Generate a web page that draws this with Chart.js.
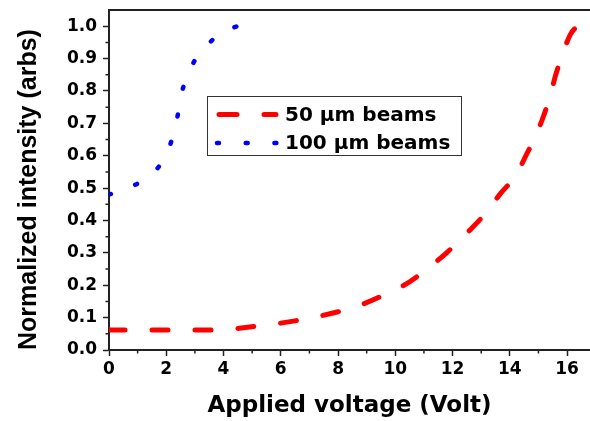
<!DOCTYPE html>
<html>
<head>
<meta charset="utf-8">
<title>Normalized intensity vs applied voltage</title>
<script src="https://cdn.jsdelivr.net/npm/chart.js@4/dist/chart.umd.min.js"></script>
<style>
    html, body { margin: 0; padding: 0; background: #fff; }
    #wrap { width: 590px; height: 421px; }
</style>
</head>
<body>
<div id="wrap"><canvas id="chart" width="590" height="421"></canvas></div>
<script>
// Data
const voltage50 = [0, 4, 4.7, 5.5, 6.7, 7.1, 8, 8.7, 9.6, 10, 10.3, 11.2, 11.8, 12.6, 13.1, 13.7, 14.2, 14.6, 14.9, 15.2, 15.4, 15.6, 15.8, 16.1, 16.25, 16.5];
const intensity50 = [0.062, 0.062, 0.069, 0.077, 0.093, 0.1, 0.118, 0.136, 0.17, 0.19, 0.2, 0.257, 0.301, 0.37, 0.417, 0.486, 0.538, 0.607, 0.66, 0.728, 0.782, 0.849, 0.903, 0.972, 0.991, 1.0];

const voltage100 = [0, 0.5, 1, 1.5, 1.85, 2.2, 2.4, 2.55, 2.85, 3.15, 3.45, 3.9, 4.45];
const intensity100 = [0.48, 0.495, 0.514, 0.545, 0.58, 0.651, 0.725, 0.797, 0.869, 0.915, 0.943, 0.98, 0.999];

const seriesLabels = ['50 \u03bcm beams', '100 \u03bcm beams'];
const xTitle = 'Applied voltage (Volt)';
const yTitle = 'Normalized intensity (arbs)';

const AXIS_COLOR = '#222';
const TICK_FONT = { family: 'DejaVu Sans', weight: 'bold', size: 17 };

// build {x, y} points for the line datasets
function toPoints(xs, ys) {
    return xs.map((x, i) => ({ x: x, y: ys[i] }));
}

// Minor ticks, top frame line and boxed legend
const decorPlugin = {
    id: 'decor',
    afterDraw(chart) {
        const ctx = chart.ctx;
        const area = chart.chartArea;
        const xs = chart.scales.x;
        const ys = chart.scales.y;

        ctx.save();
        ctx.strokeStyle = AXIS_COLOR;

        // top frame
        ctx.lineWidth = 2;
        ctx.beginPath();
        ctx.moveTo(area.left - 1, area.top);
        ctx.lineTo(area.right, area.top);
        ctx.stroke();

        // minor ticks
        ctx.lineWidth = 1.5;
        ctx.beginPath();
        for (let v = 1; v < xs.max; v += 2) {
            const px = xs.getPixelForValue(v);
            ctx.moveTo(px, area.bottom);
            ctx.lineTo(px, area.bottom + 3.5);
        }
        for (let i = 0; i < 10; i++) {
            const py = ys.getPixelForValue(0.05 + i * 0.1);
            ctx.moveTo(area.left, py);
            ctx.lineTo(area.left - 3.5, py);
        }
        ctx.stroke();

        // legend box
        ctx.lineWidth = 1;
        ctx.strokeStyle = '#333';
        ctx.strokeRect(207.5, 96.5, 254, 59);

        const sets = chart.data.datasets;
        const rows = [
            { y: 114.5, dash: [18, 27], x0: 219, x1: 276 },
            { y: 143, dash: [2, 26.7], x0: 217, x1: 278 }
        ];
        rows.forEach((r, i) => {
            const ds = sets[i];
            ctx.save();
            ctx.strokeStyle = ds.borderColor;
            ctx.lineWidth = ds.borderWidth;
            ctx.lineCap = 'round';
            ctx.setLineDash(r.dash);
            ctx.beginPath();
            ctx.moveTo(r.x0, r.y);
            ctx.lineTo(r.x1, r.y);
            ctx.stroke();
            ctx.restore();

            ctx.fillStyle = '#000';
            ctx.font = 'bold 20px "DejaVu Sans"';
            ctx.textBaseline = 'middle';
            ctx.textAlign = 'left';
            ctx.fillText(ds.label, 285, r.y + 1);
        });
        ctx.restore();
    }
};

const chart = new Chart(document.getElementById('chart'), {
    type: 'line',
    data: {
        datasets: [
            {
                label: seriesLabels[0],
                data: toPoints(voltage50, intensity50),
                borderColor: '#ff0000',
                borderWidth: 5,
                borderDash: [16, 27],
                borderCapStyle: 'round',
                cubicInterpolationMode: 'monotone',
                pointRadius: 0,
                fill: false
            },
            {
                label: seriesLabels[1],
                data: toPoints(voltage100, intensity100),
                borderColor: '#0000ff',
                borderWidth: 4.5,
                borderDash: [2, 26],
                borderCapStyle: 'round',
                cubicInterpolationMode: 'monotone',
                pointRadius: 0,
                fill: false
            }
        ]
    },
    options: {
        responsive: false,
        animation: false,
        layout: { padding: { top: 10, right: 0, left: 0, bottom: 0 } },
        plugins: {
            legend: { display: false },
            tooltip: { enabled: false }
        },
        scales: {
            x: {
                type: 'linear',
                min: 0,
                max: 16.8,
                afterFit: function (scale) {
                    scale.height = 71;
                    scale.paddingLeft = 0;
                    scale.paddingRight = 0;
                },
                border: { display: true, color: AXIS_COLOR, width: 2 },
                grid: { drawOnChartArea: false, drawTicks: true, tickLength: 6, tickWidth: 1.5, tickColor: AXIS_COLOR },
                ticks: {
                    stepSize: 2,
                    includeBounds: false,
                    maxRotation: 0,
                    padding: 3,
                    color: '#000',
                    font: TICK_FONT,
                    callback: function (value) { return String(value); }
                },
                title: {
                    display: true,
                    text: xTitle,
                    color: '#000',
                    font: { family: 'DejaVu Sans', weight: 'bold', size: 23 },
                    padding: { top: 0, bottom: 1 }
                }
            },
            y: {
                min: 0,
                max: 1.05,
                afterFit: function (scale) {
                    scale.width = 109;
                    scale.paddingTop = 0;
                    scale.paddingBottom = 0;
                },
                border: { display: true, color: AXIS_COLOR, width: 2 },
                grid: { drawOnChartArea: false, drawTicks: true, tickLength: 6, tickWidth: 1.5, tickColor: AXIS_COLOR },
                ticks: {
                    stepSize: 0.1,
                    includeBounds: false,
                    padding: 6,
                    color: '#000',
                    font: TICK_FONT,
                    callback: function (value) { return Number(value).toFixed(1); }
                },
                title: {
                    display: true,
                    text: yTitle,
                    align: 'start',
                    color: '#000',
                    font: { family: 'Liberation Sans', weight: 'bold', size: 25 },
                    padding: { top: 14, bottom: 0 }
                }
            }
        }
    },
    plugins: [decorPlugin]
});
</script>
</body>
</html>
